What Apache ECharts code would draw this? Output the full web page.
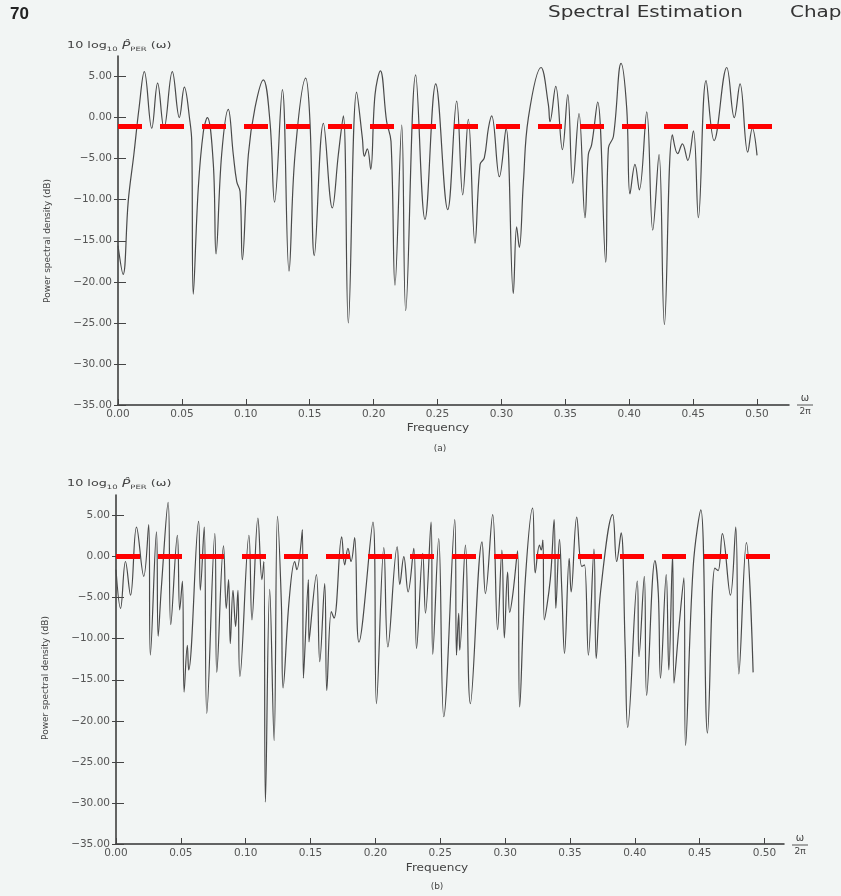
<!DOCTYPE html>
<html>
<head>
<meta charset="utf-8">
<script src="https://cdn.jsdelivr.net/npm/echarts@6/dist/echarts.min.js"></script>
<style>
html, body { margin: 0; padding: 0; background: #f2f5f4; }
#chart { width: 841px; height: 896px; }
</style>
</head>
<body>
<div id="chart"></div>
<script>
"use strict"

// (a) periodogram, frequency (w/2pi) and level in dB
var freqA = [0.000, 0.004, 0.008, 0.0124, 0.0165, 0.0206, 0.0264, 0.0310, 0.0360, 0.0425,
    0.0480, 0.0519, 0.0563, 0.0577, 0.0589, 0.0628, 0.0668, 0.0699, 0.0746, 0.0767,
    0.0811, 0.0863, 0.0902, 0.0929, 0.0955, 0.0973, 0.1020, 0.1072, 0.1137, 0.1189,
    0.1225, 0.1286, 0.1338, 0.1385, 0.1469, 0.1502, 0.1536, 0.1607, 0.1677, 0.1724,
    0.1763, 0.1802, 0.1867, 0.1912, 0.1927, 0.1951, 0.1977, 0.2011, 0.2053, 0.2102,
    0.2136, 0.2167, 0.2220, 0.2251, 0.2329, 0.2402, 0.2486, 0.2580, 0.2650, 0.2697,
    0.2741, 0.2793, 0.2833, 0.2866, 0.2898, 0.2924, 0.2984, 0.3036, 0.3093, 0.3119,
    0.3140, 0.3172, 0.3211, 0.3310, 0.3367, 0.3380, 0.3425, 0.3477, 0.3519, 0.3558,
    0.3607, 0.3654, 0.3680, 0.3706, 0.3753, 0.3816, 0.3837, 0.3876, 0.3936, 0.3980,
    0.4006, 0.4045, 0.4079, 0.4137, 0.4184, 0.4233, 0.4275, 0.4338, 0.4379, 0.4416,
    0.4458, 0.4502, 0.4541, 0.4601, 0.4664, 0.4763, 0.4822, 0.4867, 0.4927, 0.4963,
    0.5000];
var psdA = [-15.6, -19.1, -10.2, -4.5, 1.2, 5.6, -1.3, 4.2, -1.3, 5.6,
    0.0, 3.7, -0.5, -2.9, -21.5, -8.6, -1.7, 0.0, -5.7, -16.6,
    -4.5, 1.0, -4.5, -7.8, -9.0, -17.3, -4.5, 1.2, 4.6, -0.5,
    -10.3, 3.4, -18.7, -4.5, 4.8, -0.5, -16.8, -0.7, -11.0, -4.5,
    0.2, -25.0, 3.1, -2.5, -4.7, -3.8, -6.3, 2.8, 5.7, -0.5,
    -2.9, -20.4, -0.9, -23.5, 5.2, -12.4, 4.1, -11.2, 2.0, -9.4,
    -0.2, -15.3, -5.7, -4.9, -1.3, 0.2, -7.2, -1.3, -21.4, -13.3,
    -15.8, -7.8, 0.0, 6.1, 1.6, -0.5, 3.8, -3.9, 2.8, -8.0,
    0.5, -12.2, -4.5, -3.3, 1.9, -17.6, -3.7, -2.3, 6.6, 1.2,
    -9.3, -5.7, -8.8, 0.7, -13.7, -4.5, -25.2, -2.1, -4.4, -3.2,
    -5.2, -1.6, -12.2, 4.5, -2.8, 6.1, 0.0, 4.1, -4.2, -1.3,
    -4.6];

// (b) periodogram
var freqB = [0.000, 0.0035, 0.0073, 0.0112, 0.0158, 0.0214, 0.0252, 0.0265, 0.0312, 0.0325,
    0.0350, 0.0402, 0.0422, 0.0473, 0.0491, 0.0512, 0.0525, 0.0550, 0.0560, 0.0637,
    0.0650, 0.0680, 0.0700, 0.0762, 0.0777, 0.0829, 0.0850, 0.0868, 0.0881, 0.0902,
    0.0922, 0.0940, 0.0955, 0.1025, 0.1048, 0.1094, 0.1125, 0.1140, 0.1152, 0.1185,
    0.1219, 0.1245, 0.1275, 0.1288, 0.1335, 0.1378, 0.1394, 0.1437, 0.1445, 0.1483,
    0.1488, 0.1545, 0.1571, 0.1609, 0.1625, 0.1660, 0.1681, 0.1740, 0.1763, 0.1788,
    0.1812, 0.1840, 0.1873, 0.1981, 0.2008, 0.2065, 0.2096, 0.2168, 0.2188, 0.2219, 0.2252,
    0.2296, 0.2317, 0.2365, 0.2386, 0.2429, 0.2442, 0.2488, 0.2527, 0.2612, 0.2625,
    0.2642, 0.2650, 0.2694, 0.2732, 0.2822, 0.2848, 0.2904, 0.2942, 0.2975, 0.2994,
    0.3019, 0.3035, 0.3060, 0.3096, 0.3112, 0.3155, 0.3212, 0.3232, 0.3265, 0.3278,
    0.3291, 0.3302, 0.3348, 0.3378, 0.3391, 0.3419, 0.3437, 0.3458, 0.3494, 0.3509,
    0.3552, 0.3591, 0.3612, 0.3642, 0.3685, 0.3702, 0.3737, 0.3829, 0.3860, 0.3894,
    0.3925, 0.3945, 0.4019, 0.4032, 0.4073, 0.4091, 0.4155, 0.4181, 0.4198, 0.4242,
    0.4262, 0.4291, 0.4302, 0.4342, 0.4378, 0.4391, 0.4450, 0.4509, 0.4560, 0.4617,
    0.4642, 0.4675, 0.4737, 0.4778, 0.4802, 0.4860, 0.4912];
var psdB = [-1.6, -6.3, -0.6, -4.7, 3.6, -2.4, 3.9, -12.0, 3.0, -9.7,
    -3.7, 6.6, -8.3, 2.6, -6.5, -3.0, -16.5, -10.8, -13.8, 4.3,
    -4.1, 3.6, -19.1, 2.8, -14.1, 1.3, -6.3, -2.8, -10.6, -4.1,
    -8.5, -4.1, -14.6, 2.6, -7.7, 4.7, -2.8, -0.6, -29.9, -4.0,
    -22.4, 4.9, -5.7, -16.0, -5.3, -0.6, -1.6, 3.3, -14.8, -2.8,
    -10.4, -2.2, -12.8, -3.3, -16.3, -6.7, -7.5, 2.4, -1.0, 1.0,
    -0.6, 2.3, -10.4, 4.2, -17.9, 1.1, -11.0, 1.2, -3.4, 0.0, -4.3,
    1.0, -11.2, 0.4, -6.9, 4.2, -11.9, 2.2, -19.5, 4.5, -12.0,
    -6.9, -11.4, 1.4, -17.9, 1.8, -4.5, 5.1, -8.9, 0.8, -9.9,
    -1.9, -6.8, -4.5, 0.7, -18.3, -3.0, 5.9, -2.0, 1.4, 0.8,
    2.0, -7.7, -2.8, 4.5, -6.3, 2.1, -4.1, -11.8, -0.2, -4.3,
    4.8, -1.2, -1.0, -12.0, 0.9, -12.4, -4.1, 5.1, -0.6, 2.9,
    -10.8, -20.8, -3.0, -12.2, -2.4, -16.9, -0.5, -4.5, -14.8, -2.2,
    -13.8, 0.2, -15.4, -8.3, -2.6, -23.0, -1.2, 5.7, -21.5, -1.4,
    -1.7, 2.8, -4.7, 3.6, -14.3, 1.7, -14.1];

var yTicks = [-35, -30, -25, -20, -15, -10, -5, 0, 5];
var xTicks = [0, 0.05, 0.10, 0.15, 0.20, 0.25, 0.30, 0.35, 0.40, 0.45, 0.50];
var refLevelA = -1;   // red dashed level, upper plot
var refLevelB = 0;    // red dashed level, lower plot

function pairs(xs, ys){
    var out = [];
    for(let i = 0, l = xs.length; i < l; i++){
        out.push([xs[i], ys[i]]);
    }
    return out;
}

var labelFont = 'DejaVu Sans';
var inkGray = '#555';

function xAxisFor(gridIndex, max){
    return {
        type: 'value',
        gridIndex: gridIndex,
        position: 'bottom',
        min: 0,
        max: max,
        axisLine: { onZero: false, lineStyle: { color: '#333', width: 1.5 } },
        axisTick: { inside: true, length: 6, customValues: xTicks, lineStyle: { color: '#444' } },
        axisLabel: {
            customValues: xTicks,
            margin: 4,
            color: inkGray,
            fontFamily: labelFont,
            fontSize: 10.5,
            formatter: function(v){ return v.toFixed(2); }
        },
        splitLine: { show: false }
    };
}

// two y axes per grid, same scale: one carries the line, labels and outer ticks,
// the other only the inner half of each tick
function yAxisFor(gridIndex, withLabels){
    return {
        type: 'value',
        gridIndex: gridIndex,
        position: 'left',
        offset: 0,
        min: -35,
        max: 7.5,
        axisLine: { show: withLabels, onZero: false, lineStyle: { color: '#333', width: 1.5 } },
        axisTick: {
            inside: !withLabels,
            length: withLabels ? 4 : 8,
            customValues: yTicks,
            lineStyle: { color: '#444' }
        },
        axisLabel: {
            show: withLabels,
            customValues: yTicks,
            margin: 6,
            color: inkGray,
            fontFamily: labelFont,
            fontSize: 10.5,
            formatter: function(v){ return v.toFixed(2).replace('-', '\u2212'); }
        },
        splitLine: { show: false }
    };
}

function psdSeries(axisIndex, data, level){
    return {
        type: 'line',
        xAxisIndex: axisIndex,
        yAxisIndex: axisIndex * 2,
        data: data,
        showSymbol: false,
        smooth: 0.4,
        silent: true,
        lineStyle: { color: '#4a4a4a', width: 1.2 },
        markLine: {
            silent: true,
            symbol: 'none',
            label: { show: false },
            lineStyle: { color: '#ff0000', width: 5, type: [24, 18], opacity: 1 },
            data: [{ yAxis: level }]
        }
    };
}

// axis heading "10 log10 P_PER(w)" as rich text
function heading(x, y){
    return {
        type: 'text',
        x: x,
        y: y,
        scaleX: 1.42,
        style: {
            text: '{n|10 log}{s|10}{n| }{p|P\u0302}{s|PER}{n| (\u03c9)}',
            rich: {
                n: { fontSize: 9, fontFamily: labelFont, fill: '#444', lineHeight: 12 },
                p: { fontSize: 10, fontFamily: labelFont, fontStyle: 'italic', fill: '#444', lineHeight: 12 },
                s: { fontSize: 6, fontFamily: labelFont, fill: '#444', lineHeight: 12, verticalAlign: 'bottom' }
            }
        }
    };
}

function plainText(x, y, text, size, extra){
    var el = {
        type: 'text',
        x: x,
        y: y,
        style: {
            text: text,
            fontFamily: labelFont,
            fontSize: size,
            fill: '#444',
            textAlign: 'center',
            textVerticalAlign: 'middle'
        }
    };
    if(extra){
        for(var k in extra){ el[k] = extra[k]; }
    }
    return el;
}

function headerText(x, text){
    return {
        type: 'text',
        x: x,
        y: 6,
        scaleX: 1.33,
        style: { text: text, fontFamily: labelFont, fontSize: 15, fill: '#333' }
    };
}

function omegaFraction(x, y){
    return [
        plainText(x, y - 7, '\u03c9', 10),
        { type: 'line', shape: { x1: x - 8, y1: y, x2: x + 8, y2: y }, style: { stroke: '#555', lineWidth: 1 } },
        plainText(x, y + 7, '2\u03c0', 9)
    ];
}

var chart = echarts.init(document.getElementById('chart'));
var option = {
    backgroundColor: '#f2f5f4',
    animation: false,
    grid: [
        { left: 118, top: 56, width: 671, height: 349 },
        { left: 116, top: 495, width: 668, height: 349 }
    ],
    xAxis: [xAxisFor(0, 0.525), xAxisFor(1, 0.515)],
    yAxis: [yAxisFor(0, true), yAxisFor(0, false), yAxisFor(1, true), yAxisFor(1, false)],
    series: [
        psdSeries(0, pairs(freqA, psdA), refLevelA),
        psdSeries(1, pairs(freqB, psdB), refLevelB)
    ],
    graphic: [
        { type: 'text', x: 10, y: 6, style: { text: '70', fontFamily: 'Liberation Sans', fontWeight: 'bold', fontSize: 17, fill: '#222' } },
        headerText(548, 'Spectral Estimation'),
        headerText(790, 'Chap'),
        heading(67, 40),
        heading(67, 478),
        plainText(48, 241, 'Power spectral density (dB)', 9, { rotation: Math.PI / 2 }),
        plainText(46, 678, 'Power spectral density (dB)', 9, { rotation: Math.PI / 2 }),
        plainText(438, 428, 'Frequency', 10.5, { scaleX: 1.15 }),
        plainText(440, 449, '(a)', 9),
        plainText(437, 868, 'Frequency', 10.5, { scaleX: 1.15 }),
        plainText(437, 887, '(b)', 9)
    ].concat(omegaFraction(805, 405)).concat(omegaFraction(800, 845))
};
chart.setOption(option);
</script>
</body>
</html>
